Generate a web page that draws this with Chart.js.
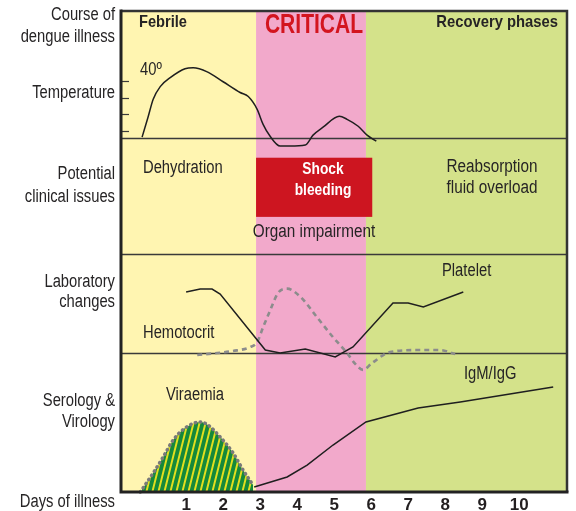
<!DOCTYPE html>
<html>
<head>
<meta charset="utf-8">
<script src="https://cdn.jsdelivr.net/npm/chart.js@4/dist/chart.umd.min.js"></script>
<style>
  body { margin: 0; background: #fff; }
  #wrap { width: 576px; height: 511px; }
</style>
</head>
<body>
<div id="wrap"><canvas id="chart" width="576" height="511"></canvas></div>
<script>
//Data (x = day of illness)
const dayTicks = [1, 2, 3, 4, 5, 6, 7, 8, 9, 10];
const phaseNames = ['Febrile', 'CRITICAL', 'Recovery phases'];
const phaseBounds = [2.89, 5.86];
const tempTicks = [37, 38, 39, 40];

const tempDays = [-0.19, -0.03, 0.11, 0.30, 0.57, 0.97, 1.19, 1.57, 2.0, 2.46, 2.68, 2.92, 3.08, 3.27, 3.54, 3.81, 4.22, 4.43, 4.70, 5.14, 5.35, 5.65, 5.89, 6.14];
const tempValues = [36.65, 37.83, 38.9, 39.65, 40.18, 40.71, 40.77, 40.53, 39.94, 39.3, 39.06, 38.3, 37.41, 36.7, 36.12, 36.12, 36.18, 36.77, 37.24, 37.89, 37.71, 37.3, 36.77, 36.41];

const plateletDays = [1.0, 1.38, 1.70, 1.92, 3.14, 3.54, 4.22, 5.03, 5.51, 6.59, 7.0, 7.41, 8.49];
const plateletValues = [6.16, 6.46, 6.46, 5.96, 0.3, 0, 0.4, -0.4, 0.61, 5.05, 5.05, 4.65, 6.16];

const hctDays = [1.30, 1.84, 2.27, 2.73, 2.92, 3.08, 3.27, 3.49, 3.73, 4.08, 4.54, 4.97, 5.35, 5.57, 5.78, 6.03, 6.51, 7.32, 7.86, 8.27];
const hctValues = [-0.2, 0, 0.2, 0.6, 1.1, 2.6, 4.3, 6.1, 6.5, 5.7, 3.6, 1.6, 0, -1.1, -1.7, -1.0, 0.1, 0.3, 0.3, -0.1];

const igDays = [2.84, 3.73, 4.27, 4.97, 5.86, 7.27, 8.41, 10.92];
const igValues = [0.36, 1.08, 1.94, 3.38, 5.04, 6.04, 6.47, 7.55];

const viraemiaDays = [-0.24, 0.11, 0.38, 0.65, 0.97, 1.38, 1.59, 1.92, 2.27, 2.54, 2.81];
const viraemiaValues = [0, 1.37, 2.52, 3.74, 4.60, 5.04, 4.82, 3.96, 2.81, 1.58, 0.50];

// shock/bleeding block in the clinical band: [from day, to day], [low, high]
const shockDays = [2.89, 6.03];
const shockLevels = [3.2, 8.3];

//Helpers
const pts = (xs, ys) => xs.map((x, i) => ({ x: x, y: ys[i] }));

function txt(ctx, s, x, y, o) {
    o = o || {};
    ctx.save();
    ctx.font = (o.bold ? 'bold ' : '') + (o.size || 18) + 'px "Liberation Sans", Arial, sans-serif';
    ctx.fillStyle = o.color || '#262425';
    ctx.textAlign = o.align || 'left';
    ctx.textBaseline = 'alphabetic';
    ctx.translate(x, y);
    ctx.scale(o.sx || 0.82, 1);
    ctx.fillText(s, 0, 0);
    ctx.restore();
}

/**
 * Green/yellow slanted stripes used for the viraemia hump.
 */
function stripes() {
    const c = document.createElement('canvas');
    c.width = 6; c.height = 6;
    const g = c.getContext('2d');
    g.fillStyle = '#15893a';
    g.fillRect(0, 0, 6, 6);
    g.fillStyle = '#e2df1e';
    g.fillRect(4, 0, 2, 6);
    const p = g.createPattern(c, 'repeat');
    if (p.setTransform && window.DOMMatrix) p.setTransform(new DOMMatrix().skewX(-14));
    return p;
}

const colors = { yellow: '#fff5b1', pink: '#f2a9cb', green: '#d4e28a', red: '#cd1520', ink: '#262425' };

const dengueDiagram = {
    id: 'dengueDiagram',
    beforeDatasetsDraw(chart) {
        const { ctx, chartArea: a, scales } = chart;
        const x = scales.x;
        const b = [a.left, x.getPixelForValue(phaseBounds[0]), x.getPixelForValue(phaseBounds[1]), a.right];
        [colors.yellow, colors.pink, colors.green].forEach((c, i) => {
            ctx.fillStyle = c;
            ctx.fillRect(b[i], a.top, b[i + 1] - b[i], a.bottom - a.top);
        });

        // shock block
        const cy = scales.yClin;
        const x0 = x.getPixelForValue(shockDays[0]), x1 = x.getPixelForValue(shockDays[1]);
        const y0 = cy.getPixelForValue(shockLevels[1]), y1 = cy.getPixelForValue(shockLevels[0]);
        ctx.fillStyle = colors.red;
        ctx.fillRect(x0, y0, x1 - x0, y1 - y0);

        // band dividers
        ctx.strokeStyle = '#3a3a3a';
        ctx.lineWidth = 1.5;
        ['yTemp', 'yClin', 'yLab'].forEach(id => {
            const yy = Math.round(scales[id].bottom) + 0.5;
            ctx.beginPath();
            ctx.moveTo(a.left, yy);
            ctx.lineTo(a.right, yy);
            ctx.stroke();
        });

        // temperature tick marks (inside)
        ctx.strokeStyle = '#3a3a3a';
        ctx.lineWidth = 1.2;
        tempTicks.forEach(t => {
            const yy = Math.round(scales.yTemp.getPixelForValue(t)) + 0.5;
            ctx.beginPath();
            ctx.moveTo(a.left, yy);
            ctx.lineTo(a.left + 8, yy);
            ctx.stroke();
        });
    },
    afterDraw(chart) {
        const { ctx, chartArea: a, scales } = chart;
        const x = scales.x;

        // frame
        ctx.strokeStyle = '#333';
        ctx.lineWidth = 2.5;
        ctx.beginPath();
        ctx.moveTo(a.left, a.top + 1);
        ctx.lineTo(a.right - 1, a.top + 1);
        ctx.lineTo(a.right - 1, a.bottom);
        ctx.stroke();
        ctx.strokeStyle = '#222';
        ctx.lineWidth = 3;
        ctx.beginPath();
        ctx.moveTo(a.left, a.top - 0.5);
        ctx.lineTo(a.left, a.bottom);
        ctx.lineTo(a.right + 0.5, a.bottom);
        ctx.stroke();

        // phase titles
        txt(ctx, phaseNames[0], 139, 27, { bold: true, size: 17, sx: 0.86 });
        txt(ctx, phaseNames[1], (x.getPixelForValue(phaseBounds[0]) + x.getPixelForValue(phaseBounds[1])) / 2 + 3, 33,
            { bold: true, size: 27, sx: 0.78, color: '#d3151f', align: 'center' });
        txt(ctx, phaseNames[2], 558, 27, { bold: true, size: 17, sx: 0.87, align: 'right' });

        // row labels
        const r = { align: 'right', size: 18 };
        txt(ctx, 'Course of', 115, 20, r);
        txt(ctx, 'dengue illness', 115, 42, r);
        txt(ctx, 'Temperature', 115, 98, r);
        txt(ctx, 'Potential', 115, 179, r);
        txt(ctx, 'clinical issues', 115, 202, r);
        txt(ctx, 'Laboratory', 115, 287, r);
        txt(ctx, 'changes', 115, 307, r);
        txt(ctx, 'Serology &', 115, 406, r);
        txt(ctx, 'Virology', 115, 427, r);
        txt(ctx, 'Days of illness', 115, 507, r);

        // annotations in the plot
        txt(ctx, '40º', 140, 75, { size: 18 });
        txt(ctx, 'Dehydration', 143, 173, { size: 18 });
        txt(ctx, 'Shock', 323, 174, { bold: true, size: 16, sx: 0.86, color: '#fff', align: 'center' });
        txt(ctx, 'bleeding', 323, 195, { bold: true, size: 16, sx: 0.86, color: '#fff', align: 'center' });
        txt(ctx, 'Organ impairment', 314, 237, { size: 18, sx: 0.85, align: 'center' });
        txt(ctx, 'Reabsorption', 492, 172, { size: 18, sx: 0.85, align: 'center' });
        txt(ctx, 'fluid overload', 492, 193, { size: 18, sx: 0.85, align: 'center' });
        txt(ctx, 'Platelet', 442, 276, { size: 18 });
        txt(ctx, 'Hemotocrit', 143, 338, { size: 18 });
        txt(ctx, 'IgM/IgG', 464, 379, { size: 18 });
        txt(ctx, 'Viraemia', 166, 400, { size: 18 });
    }
};

const lineBase = { pointRadius: 0, borderWidth: 1.5, borderColor: '#1f1f1f', fill: false, clip: false };

new Chart(document.getElementById('chart'), {
    type: 'line',
    data: {
        datasets: [
            Object.assign({}, lineBase, {
                label: 'Viraemia', data: pts(viraemiaDays, viraemiaValues), yAxisID: 'ySero',
                cubicInterpolationMode: 'monotone', fill: 'origin', backgroundColor: stripes(),
                borderColor: '#7a7a7a', borderWidth: 3.5, borderDash: [0.5, 4.5], borderCapStyle: 'round'
            }),
            Object.assign({}, lineBase, {
                label: 'Temperature', data: pts(tempDays, tempValues), yAxisID: 'yTemp',
                cubicInterpolationMode: 'monotone'
            }),
            Object.assign({}, lineBase, {
                label: 'Platelet', data: pts(plateletDays, plateletValues), yAxisID: 'yLab', tension: 0
            }),
            Object.assign({}, lineBase, {
                label: 'Hemotocrit', data: pts(hctDays, hctValues), yAxisID: 'yLab',
                cubicInterpolationMode: 'monotone', borderColor: '#8c8c8c', borderWidth: 2.6, borderDash: [5, 4]
            }),
            Object.assign({}, lineBase, {
                label: 'IgM/IgG', data: pts(igDays, igValues), yAxisID: 'ySero', tension: 0
            })
        ]
    },
    options: {
        responsive: false,
        animation: false,
        layout: { padding: { left: 121, top: 10, right: 8, bottom: 0 } },
        plugins: { legend: { display: false }, tooltip: { enabled: false } },
        scales: {
            x: {
                type: 'linear', min: -0.76, max: 11.32,
                grid: { display: false, drawTicks: false }, border: { display: false },
                afterBuildTicks: (s) => { s.ticks = dayTicks.map(v => ({ value: v })); },
                afterFit: (s) => { s.height = 19; },
                ticks: {
                    padding: 3, color: '#231f20', autoSkip: false, maxRotation: 0,
                    font: { family: '"Liberation Sans", Arial, sans-serif', size: 17, weight: 'bold' }
                }
            },
            ySero: { type: 'linear', position: 'left', stack: 'bands', stackWeight: 139, min: 0, max: 10, display: false },
            yLab: { type: 'linear', position: 'left', stack: 'bands', stackWeight: 99, min: 0, max: 10, display: false },
            yClin: { type: 'linear', position: 'left', stack: 'bands', stackWeight: 116, min: 0, max: 10, display: false },
            yTemp: { type: 'linear', position: 'left', stack: 'bands', stackWeight: 128, min: 36.6, max: 44.2, display: false }
        }
    },
    plugins: [dengueDiagram]
});
</script>
</body>
</html>
